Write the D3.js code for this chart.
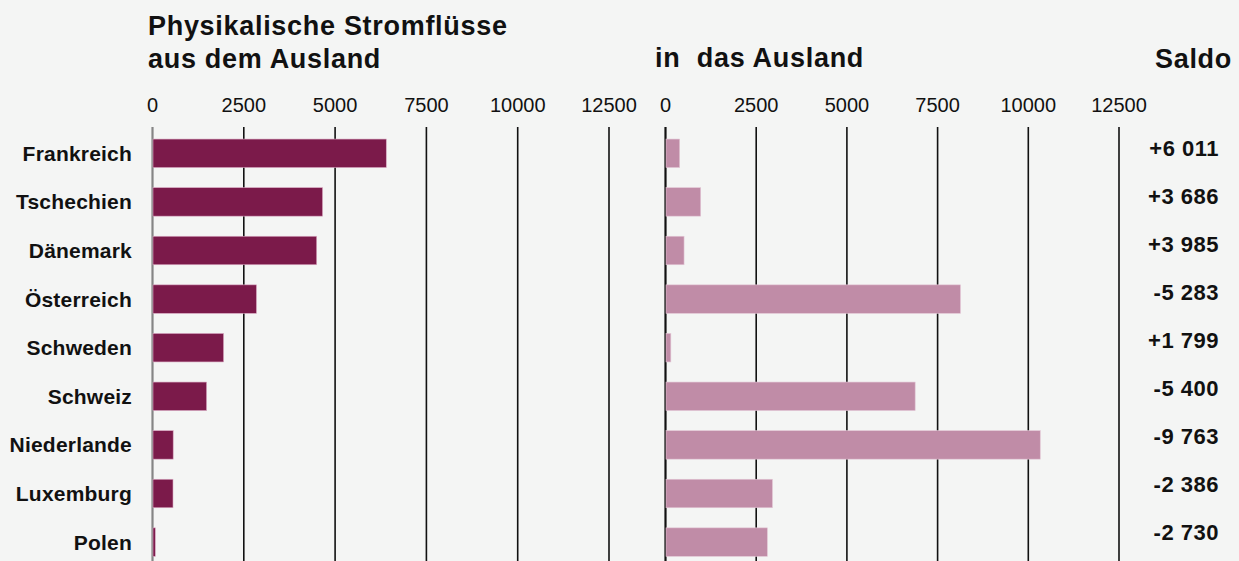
<!DOCTYPE html>
<html>
<head>
  <meta charset="UTF-8">
  <title>Physikalische Stromflüsse</title>
  <style>
    body { margin: 0; background: #f4f5f4; }
    svg { display: block; font-family: "Liberation Sans", Arial, sans-serif; }
    .axis path { display: none; }
  </style>
</head>
<body>
<svg id="chart" width="1239" height="561"></svg>
<script src="https://cdn.jsdelivr.net/npm/d3@7"></script>
<script>

// data
var countries = ["Frankreich", "Tschechien", "Dänemark", "Österreich", "Schweden",
                 "Schweiz", "Niederlande", "Luxemburg", "Polen"];
var importVals = [6415, 4670, 4510, 2860, 1960, 1495, 580, 575, 90];
var exportVals = [404, 984, 525, 8143, 161, 6895, 10343, 2961, 2820];
var saldoLabels = ["+6 011", "+3 686", "+3 985", "-5 283", "+1 799", "-5 400", "-9 763", "-2 386", "-2 730"];
var tickVals = [0, 2500, 5000, 7500, 10000, 12500];

var svg = d3.select("#chart"),
    width = +svg.attr("width"),
    height = +svg.attr("height");

svg.append("rect").attr("width", width).attr("height", height).attr("fill", "#f4f5f4");

// scales
var xLeft = d3.scaleLinear().domain([0, 12500]).range([152, 608.5]);
var xRight = d3.scaleLinear().domain([0, 12500]).range([665, 1118.5]);
var y = d3.scaleBand().domain(countries)
    .range([129, 129 + 9 * 48.6])
    .paddingInner(0.414).paddingOuter(0.207);
var ySaldo = d3.scalePoint().domain(countries).range([148.5, 532.5]);

var gridTop = 127;

function drawAxis(scale) {
  var g = svg.append("g")
      .attr("class", "axis")
      .attr("transform", "translate(0," + gridTop + ")")
      .call(d3.axisBottom(scale).tickValues(tickVals).tickSize(height - gridTop).tickFormat(d3.format("d")));
  g.selectAll(".tick line").attr("stroke", "#111").attr("stroke-width", 1.6);
  g.selectAll(".tick text")
      .attr("y", -15).attr("dy", 0)
      .attr("fill", "#111")
      .style("font-size", "20px");
  return g;
}

var gl = drawAxis(xLeft);
gl.selectAll(".tick line").filter(function(d) { return d === 0; })
    .attr("stroke", "#858585").attr("stroke-width", 2.2);
var gr = drawAxis(xRight);
gr.selectAll(".tick line").filter(function(d) { return d === 0; })
    .attr("stroke-width", 2.2);

// bars
svg.append("g").selectAll("rect")
    .data(countries)
    .enter().append("rect")
    .attr("x", xLeft(0) + 1)
    .attr("y", function(d) { return y(d); })
    .attr("width", function(d, i) { return xLeft(importVals[i]) - xLeft(0) - 1; })
    .attr("height", y.bandwidth())
    .attr("fill", "#7b1a4a")
    .attr("stroke", "#d9a9c2").attr("stroke-width", 0.6);

svg.append("g").selectAll("rect")
    .data(countries)
    .enter().append("rect")
    .attr("x", xRight(0) + 1)
    .attr("y", function(d) { return y(d); })
    .attr("width", function(d, i) { return xRight(exportVals[i]) - xRight(0) - 1; })
    .attr("height", y.bandwidth())
    .attr("fill", "#c08ca7")
    .attr("stroke", "#e3c6d5").attr("stroke-width", 0.6);

// country labels
svg.append("g").selectAll("text")
    .data(countries)
    .enter().append("text")
    .attr("x", 132)
    .attr("y", function(d) { return y(d) + y.bandwidth() / 2 + 7.5; })
    .attr("text-anchor", "end")
    .style("font-size", "21px")
    .style("letter-spacing", "0.2px")
    .style("font-weight", "bold")
    .attr("fill", "#111")
    .text(function(d) { return d; });

// saldo labels
svg.append("g").selectAll("text")
    .data(countries)
    .enter().append("text")
    .attr("x", 1219)
    .attr("y", function(d) { return ySaldo(d) + 7.5; })
    .attr("text-anchor", "end")
    .style("font-size", "22px")
    .style("letter-spacing", "0.5px")
    .style("font-weight", "bold")
    .attr("fill", "#111")
    .text(function(d, i) { return saldoLabels[i]; });

// headers
var head = svg.append("g")
    .style("font-weight", "bold")
    .style("font-size", "27px")
    .style("letter-spacing", "0.7px")
    .attr("fill", "#111");
head.append("text").attr("x", 148).attr("y", 35).text("Physikalische Stromflüsse");
head.append("text").attr("x", 148).attr("y", 68).text("aus dem Ausland");
head.append("text").attr("x", 655).attr("y", 67).style("white-space", "pre").text("in  das Ausland");
head.append("text").attr("x", 1232).attr("y", 68).attr("text-anchor", "end").text("Saldo");

</script>
</body>
</html>
